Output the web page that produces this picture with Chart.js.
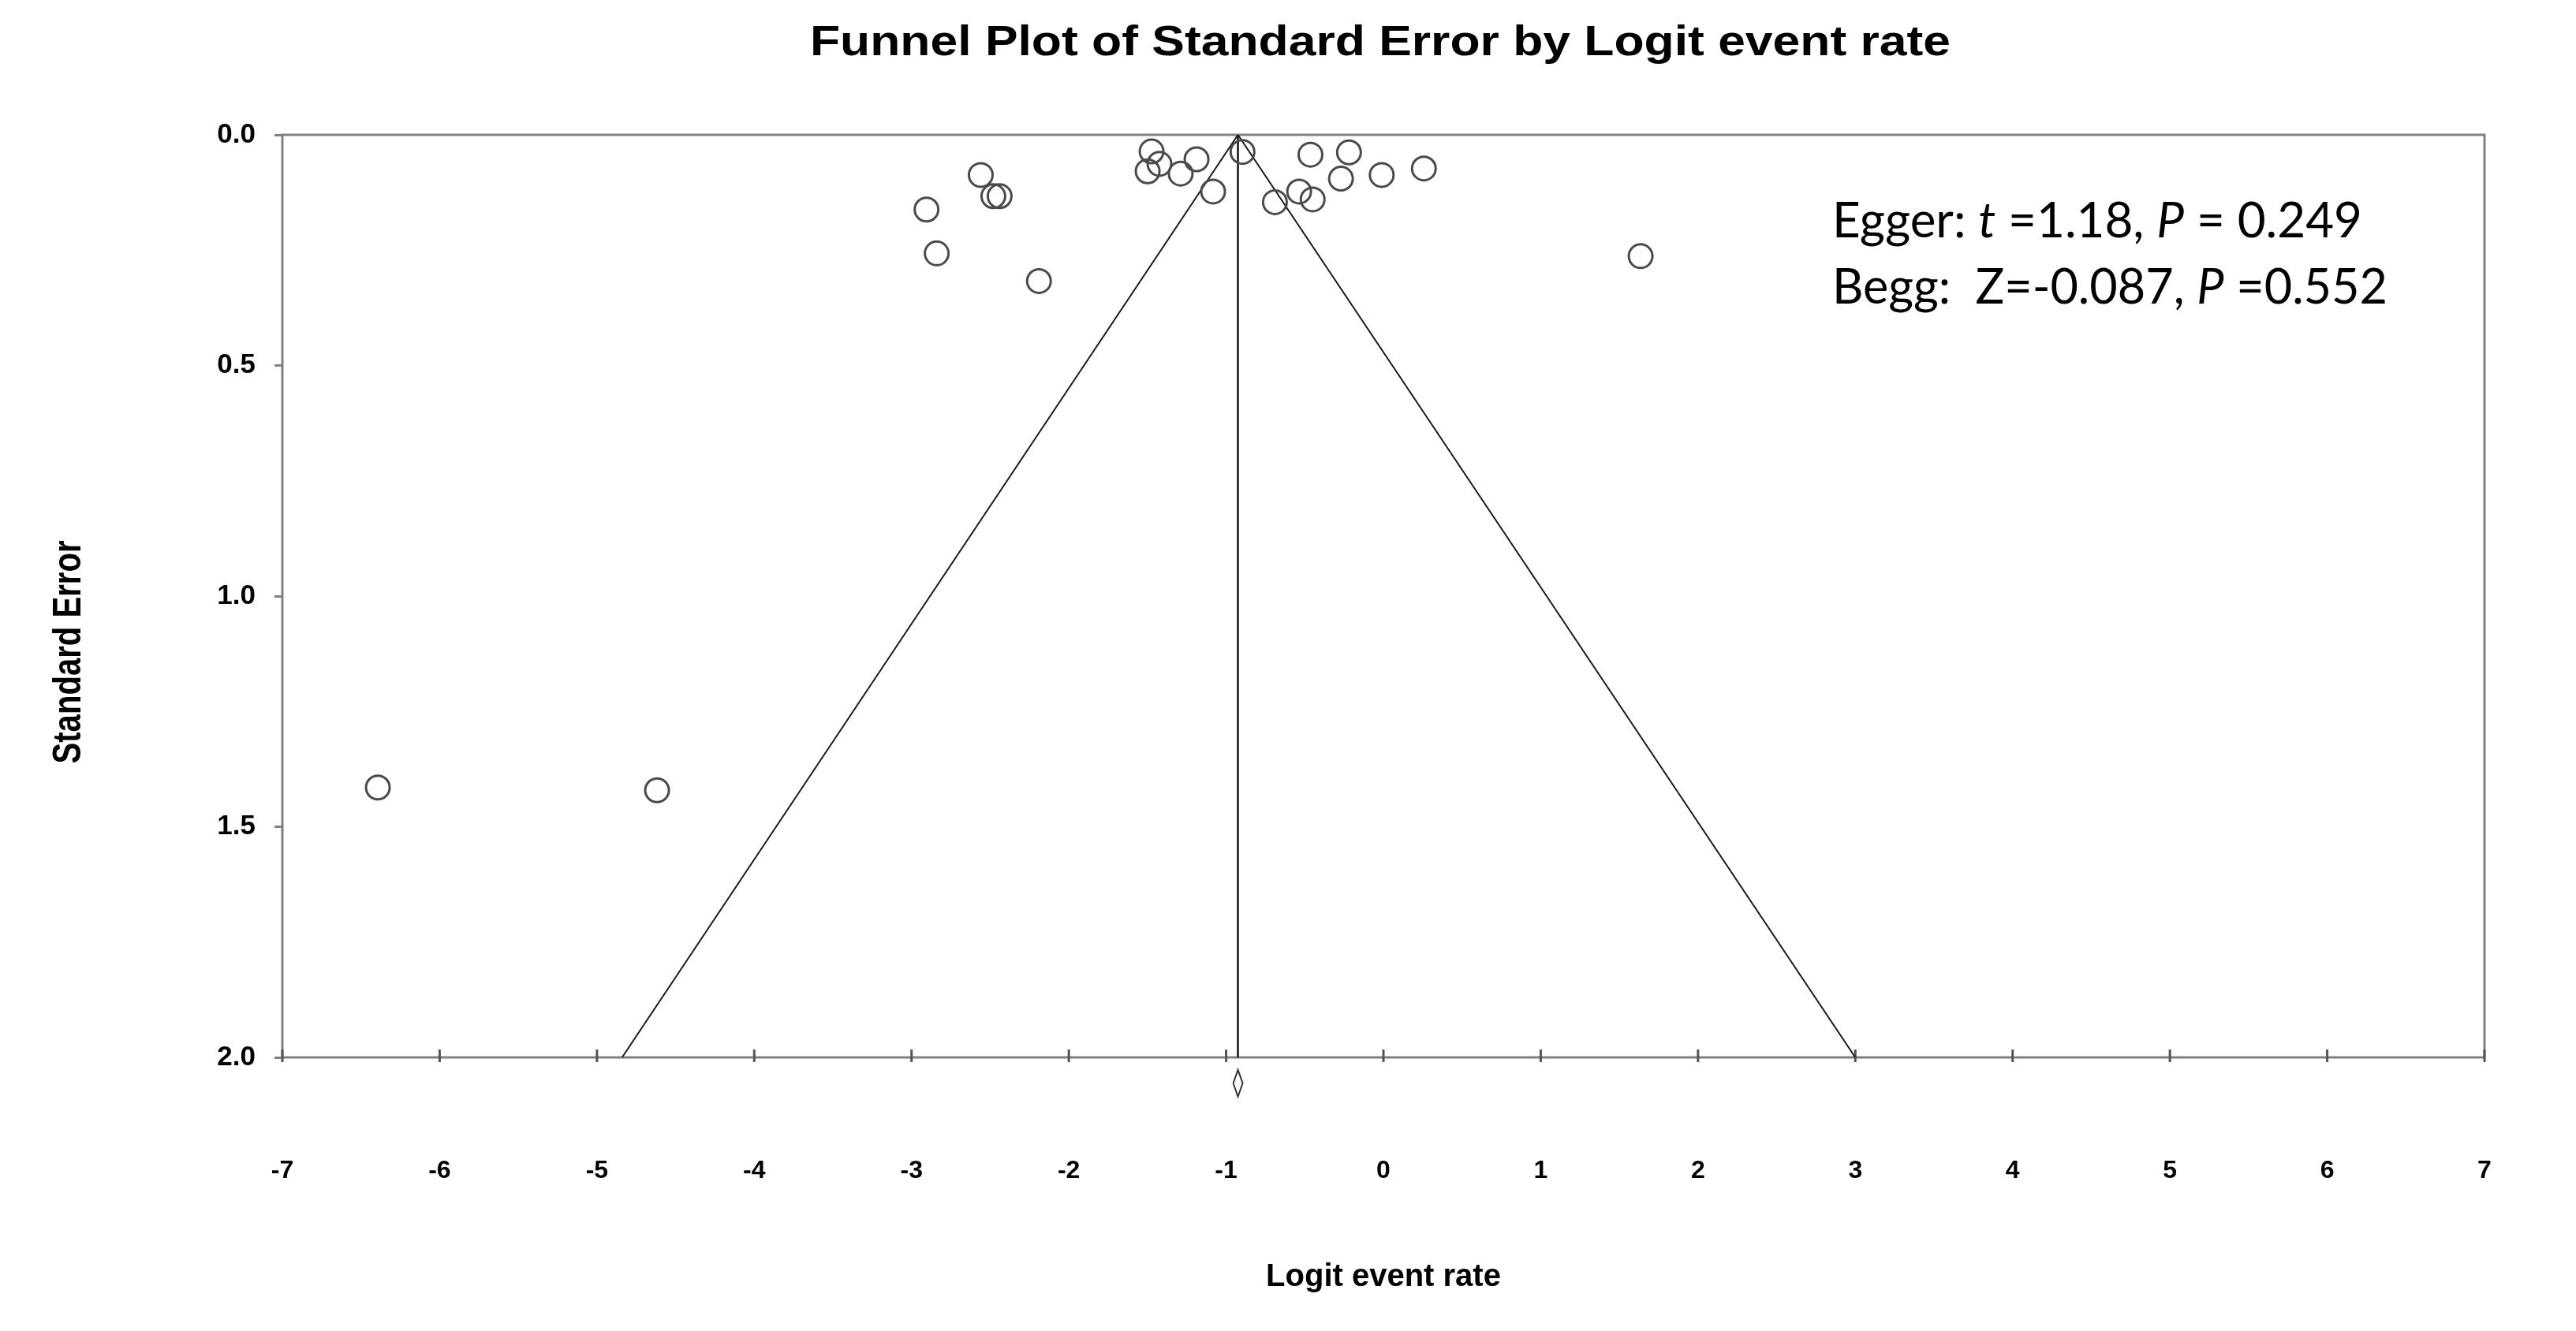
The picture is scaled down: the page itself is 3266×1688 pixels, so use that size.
<!DOCTYPE html>
<html>
<head>
<meta charset="utf-8">
<script src="https://cdn.jsdelivr.net/npm/chart.js@4.4.0/dist/chart.umd.min.js"></script>
<style>
  body { margin: 0; background: #fff; }
  canvas { display: block; }
</style>
</head>
<body>
<canvas id="funnel" width="3266" height="1688"></canvas>
<script>
// study estimates (logit event rate, standard error)
const logitRate = [-2.905, -2.84, -2.56, -2.48, -2.44, -2.19, -1.474, -1.499, -1.424, -1.289, -1.188, -1.083,
                   -0.896, -0.69, -0.536, -0.45, -0.464, -0.27, -0.219, -0.011, 0.257, 1.635, -6.393, -4.618];
const stdError  = [0.162, 0.257, 0.087, 0.133, 0.133, 0.317, 0.036, 0.079, 0.063, 0.084, 0.053, 0.123,
                   0.037, 0.146, 0.123, 0.140, 0.043, 0.095, 0.038, 0.087, 0.073, 0.263, 1.415, 1.421];

// pooled estimate and 95% funnel limits
const funnelX  = [-4.84, -0.925, 3.0];
const funnelSE = [2, 0, 2];
const pooledX  = [-0.925, -0.925];
const pooledSE = [0, 2];
// summary diamond under the axis
const diamondX  = [-0.955, -0.925, -0.895, -0.925, -0.955];
const diamondSE = [2.056, 2.027, 2.056, 2.085, 2.056];

const xTicks = [-7, -6, -5, -4, -3, -2, -1, 0, 1, 2, 3, 4, 5, 6, 7];
const yTicks = [0, 0.5, 1, 1.5, 2];

const titleText = 'Funnel Plot of Standard Error by Logit event rate';
const xTitle = 'Logit event rate';
const yTitle = 'Standard Error';
const eggerLine = [['Egger: ', false], ['t', true], [' =1.18, ', false], ['P', true], [' = 0.249', false]];
const beggLine  = [['Begg:  Z=-0.087, ', false], ['P', true], [' =0.552', false]];

function pts(xs, ys) {
    return xs.map(function (x, i) { return { x: x, y: ys[i] }; });
}

// draws a run of text pieces squeezed/stretched to a given width
function stretchedText(ctx, parts, x, y, width, center, sy) {
    var total = 0;
    parts.forEach(function (p) { ctx.font = p[1]; total += ctx.measureText(p[0]).width; });
    ctx.save();
    ctx.translate(x, y);
    ctx.scale(width / total, sy || 1);
    var cx = center ? -total / 2 : 0;
    parts.forEach(function (p) {
        ctx.font = p[1];
        ctx.fillText(p[0], cx, 0);
        cx += ctx.measureText(p[0]).width;
    });
    ctx.restore();
}

const decor = {
    id: 'decor',
    beforeDatasetsDraw(chart) {
        const ctx = chart.ctx;
        const a = chart.chartArea;
        const xs = chart.scales.x;
        ctx.save();
        ctx.strokeStyle = '#808080';
        ctx.lineWidth = 3;
        ctx.strokeRect(a.left, a.top, a.right - a.left, a.bottom - a.top);
        ctx.strokeStyle = '#555';
        ctx.lineWidth = 3;
        xTicks.forEach(function (v) {
            const px = xs.getPixelForValue(v);
            ctx.beginPath();
            ctx.moveTo(px, a.bottom - 10);
            ctx.lineTo(px, a.bottom + 6);
            ctx.stroke();
        });
        ctx.restore();
    },
    afterDraw(chart) {
        const ctx = chart.ctx;
        ctx.save();
        ctx.fillStyle = '#000';
        ctx.textBaseline = 'alphabetic';
        stretchedText(ctx, [[titleText, 'bold 54px "Liberation Sans", Arial, sans-serif']], 1750, 70, 1446, true);

        const reg = '62px Lato, "Open Sans", sans-serif';
        const ita = 'italic 62px Lato, "Open Sans", sans-serif';
        stretchedText(ctx, eggerLine.map(function (p) { return [p[0], p[1] ? ita : reg]; }), 2323, 301, 672, false);
        stretchedText(ctx, beggLine.map(function (p) { return [p[0], p[1] ? ita : reg]; }), 2323, 385, 704, false);

        ctx.translate(88, 827);
        ctx.rotate(-Math.PI / 2);
        ctx.textBaseline = 'middle';
        stretchedText(ctx, [[yTitle, 'bold 38px "Liberation Sans", Arial, sans-serif']], 0, 0, 283, true, 1.3);
        ctx.restore();
    }
};

const ctxFunnel = document.getElementById('funnel');

var chartFunnel = new Chart(ctxFunnel, {
    type: 'scatter',
    data: {
        datasets: [{
            label: 'Studies',
            data: pts(logitRate, stdError),
            pointStyle: 'circle',
            pointRadius: 15,
            borderColor: '#4a4a4a',
            borderWidth: 3,
            backgroundColor: 'rgba(0,0,0,0)',
        }, {
            label: 'Funnel',
            data: pts(funnelX, funnelSE),
            showLine: true,
            pointRadius: 0,
            borderColor: '#1a1a1a',
            borderWidth: 2,
        }, {
            label: 'Pooled',
            data: pts(pooledX, pooledSE),
            showLine: true,
            pointRadius: 0,
            borderColor: '#111',
            borderWidth: 2.5,
        }, {
            label: 'Diamond',
            data: pts(diamondX, diamondSE),
            showLine: true,
            pointRadius: 0,
            borderColor: '#333',
            borderWidth: 2,
            clip: false,
        }]
    },
    options: {
        responsive: false,
        animation: false,
        layout: {
            padding: { top: 171, right: 116, left: 0, bottom: 0 }
        },
        plugins: {
            legend: { display: false },
            tooltip: { enabled: false },
            title: { display: false }
        },
        scales: {
            x: {
                type: 'linear',
                min: -7,
                max: 7,
                afterBuildTicks: function (s) { s.ticks = xTicks.map(function (v) { return { value: v }; }); },
                afterFit: function (s) { s.height = 1688 - 1341; },
                // tick marks are drawn by the plugin; tickLength only pushes the labels down
                grid: { display: false, drawTicks: true, tickLength: 115 },
                border: { display: false },
                ticks: {
                    padding: 10,
                    color: '#000',
                    font: { family: '"Liberation Sans", Arial, sans-serif', size: 32, weight: 'bold' }
                },
                title: {
                    display: true,
                    text: xTitle,
                    color: '#000',
                    font: { family: '"Liberation Sans", Arial, sans-serif', size: 40, weight: 'bold' },
                    padding: { top: 0, bottom: 44 }
                }
            },
            y: {
                type: 'linear',
                min: 0,
                max: 2,
                reverse: true,
                afterBuildTicks: function (s) { s.ticks = yTicks.map(function (v) { return { value: v }; }); },
                afterFit: function (s) { s.width = 358; },
                grid: {
                    drawOnChartArea: false,
                    drawTicks: true,
                    tickLength: 10,
                    color: '#808080',
                    lineWidth: 3
                },
                border: { display: false },
                ticks: {
                    padding: 24,
                    color: '#000',
                    font: { family: '"Liberation Sans", Arial, sans-serif', size: 35, weight: 'bold' },
                    callback: function (v) { return Number(v).toFixed(1); }
                }
            }
        }
    },
    plugins: [decor]
});
</script>
</body>
</html>
